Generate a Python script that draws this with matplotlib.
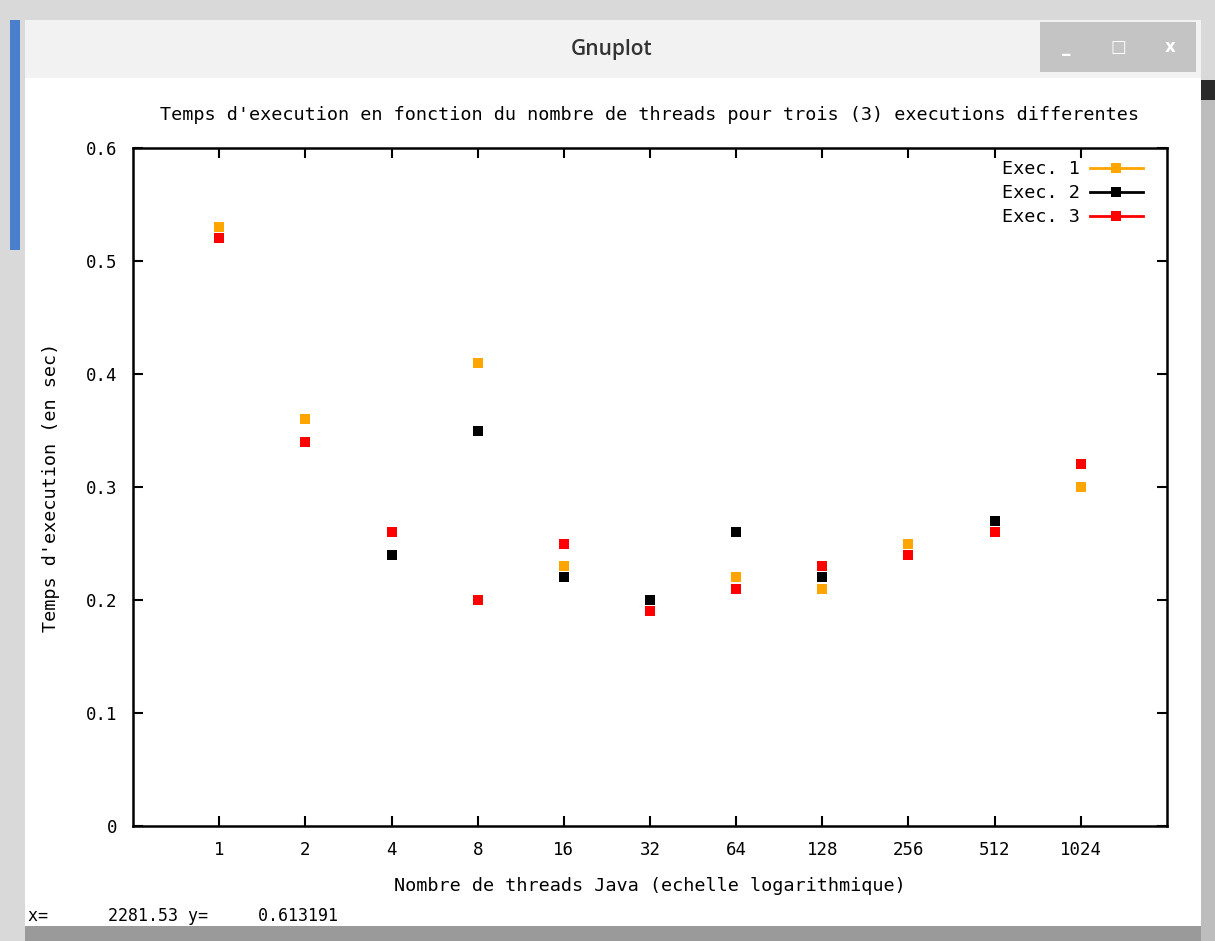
import matplotlib
matplotlib.use("Agg")
import matplotlib.pyplot as plt
from matplotlib.patches import Rectangle
from matplotlib.lines import Line2D

threads = [1, 2, 4, 8, 16, 32, 64, 128, 256, 512, 1024]
exec1 = [0.53, 0.36, 0.26, 0.41, 0.23, 0.19, 0.22, 0.21, 0.25, 0.26, 0.30]
exec2 = [0.52, 0.34, 0.24, 0.35, 0.22, 0.20, 0.26, 0.22, 0.24, 0.27, 0.32]
exec3 = [0.52, 0.34, 0.26, 0.20, 0.25, 0.19, 0.21, 0.23, 0.24, 0.26, 0.32]
series = [("Exec. 1", exec1, "#ffa500"), ("Exec. 2", exec2, "#000000"), ("Exec. 3", exec3, "#ff0000")]
yticks = [0, 0.1, 0.2, 0.3, 0.4, 0.5, 0.6]

W, H = 1215, 941
fig = plt.figure(figsize=(W / 100, H / 100), dpi=100)
fig.patch.set_facecolor("#e8e8e8")
font = "DejaVu Sans Mono"

def fr(x, y, w, h, color, z=-10):
    fig.patches.append(Rectangle((x / W, 1 - (y + h) / H), w / W, h / H, transform=fig.transFigure,
                                 facecolor=color, edgecolor="none", zorder=z))

# window decoration
fr(0, 0, W, H, "#d9d9d9")
fr(10, 20, 10, 230, "#4a7fcc")
fr(1200, 80, 15, 861, "#bdbdbd")
fr(1200, 80, 15, 20, "#2a2a2a")
fr(25, 20, 1176, 60, "#f2f2f2")
fr(25, 78, 1176, 848, "#ffffff")
fr(25, 926, 1176, 15, "#9a9a9a")
fig.text(612 / W, 1 - 49 / H, "Gnuplot", ha="center", va="center", fontsize=15,
         family="Open Sans", color="#333333", fontweight="semibold")
for bx, lab in [(1040, "_"), (1092, "\u25a1"), (1144, "x")]:
    fr(bx, 22, 52, 50, "#c4c4c4")
    fig.text((bx + 26) / W, 1 - 47 / H, lab, ha="center", va="center", fontsize=12,
             color="#ffffff", fontweight="bold")
fig.text(28 / W, 1 - 916 / H, "x=      2281.53 y=     0.613191", ha="left", va="center",
         fontsize=12, family=font)

ax = fig.add_axes([133 / W, 1 - 826 / H, (1167 - 133) / W, (826 - 148) / H])
ax.set_zorder(10)
ax.set_facecolor("white")
ax.set_xscale("log", base=2)
ax.set_xlim(0.5, 2048)
ax.set_ylim(0, 0.6)

for name, vals, col in series:
    ax.plot(threads, vals, linestyle="none", marker="s", markersize=6.5, color=col,
            markeredgewidth=0, label=name)

ax.set_xticks(threads)
ax.set_xticklabels([str(t) for t in threads])
ax.minorticks_off()
ax.set_yticks(yticks)
ax.set_yticklabels([f"{v:g}" for v in yticks])
ax.tick_params(direction="in", length=7, width=1.5, top=True, right=True,
               labelsize=12.5, pad=11)
for lab in ax.get_xticklabels() + ax.get_yticklabels():
    lab.set_family(font)
for sp in ax.spines.values():
    sp.set_linewidth(1.8)

ax.set_title("Temps d'execution en fonction du nombre de threads pour trois (3) executions differentes",
             fontsize=13.3, family=font, pad=20)
ax.set_xlabel("Nombre de threads Java (echelle logarithmique)", fontsize=13.3, family=font, labelpad=13)
ax.set_ylabel("Temps d'execution (en sec)", fontsize=13.3, family=font, labelpad=19)

handles = [Line2D([], [], color=c, marker="s", markersize=6.5, markeredgewidth=0, linewidth=2)
           for _, _, c in series]
ax.legend(handles, [s[0] for s in series], loc="upper right", frameon=False, markerfirst=False,
          prop={"family": font, "size": 13.3}, handlelength=2.9, labelspacing=0.32,
          borderaxespad=0.3, handletextpad=0.5, numpoints=1,
          bbox_to_anchor=(1 - 11 / 1034, 1.001))

fig.savefig("out.png", dpi=100)
